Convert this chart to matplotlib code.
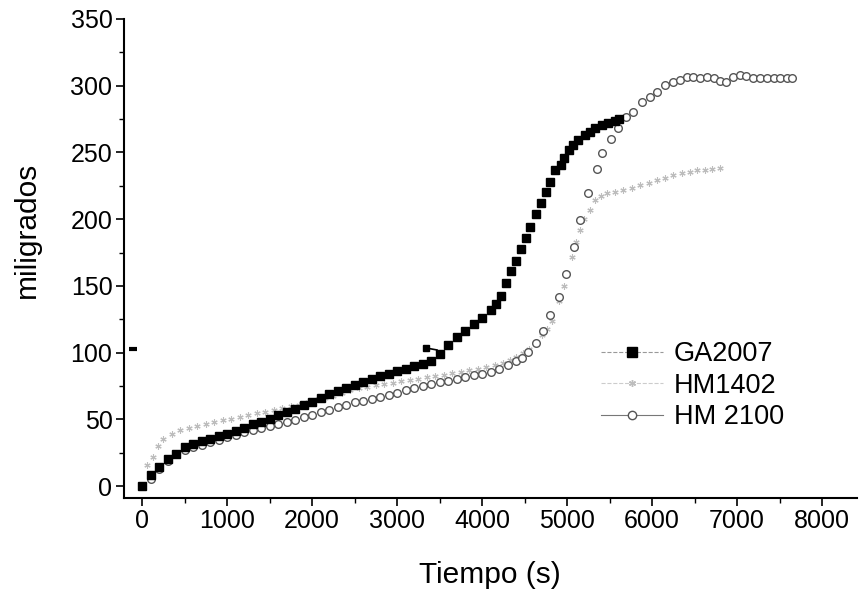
import numpy as np
import matplotlib
matplotlib.use("Agg")
import matplotlib.pyplot as plt
from matplotlib.lines import Line2D

plt.rcParams['font.family'] = ['Liberation Sans', 'DejaVu Sans']

# GA2007 (black squares) -- time [s], mass [mg]
ga_t = [0, 100, 200, 300, 400, 500, 600, 700, 800, 900, 1000, 1100, 1200, 1300,
        1400, 1500, 1600, 1700, 1800, 1900, 2000, 2100, 2200, 2300, 2400, 2500,
        2600, 2700, 2800, 2900, 3000, 3100, 3200, 3300, 3400, 3500, 3600, 3700,
        3800, 3900, 4000, 4100, 4160, 4220, 4282, 4338, 4400, 4459, 4518, 4568,
        4635, 4691, 4749, 4800, 4859, 4926, 4965, 5027, 5074, 5133, 5212, 5271,
        5329, 5408, 5486, 5565, 5615]
ga_m = [0, 8, 14.5, 20, 24, 29, 31.5, 33.5, 35.5, 37.3, 39.2, 41.3, 43.8, 46.3,
        48.2, 50, 53, 55.5, 58, 60.5, 63, 66, 69, 71.5, 73.5, 75.7,
        78.3, 80.5, 82.3, 84.2, 86.2, 88, 90, 91.7, 93.8, 99, 105.5, 111.7,
        116.5, 121.3, 126, 132, 136.3, 142.3, 151.8, 161.3, 168.5, 177.3, 185.5, 193.8,
        203.7, 212.2, 220.4, 228, 236.7, 240.4, 245.5, 251.7, 255.4, 259.2, 262.9, 265.4,
        267.9, 270.4, 272.1, 273.6, 274.7]

# HM1402 (light grey stars)
hm14_t = [0, 55, 130, 190, 250, 350, 450, 550, 650, 750, 850, 950, 1050, 1150,
          1250, 1350, 1450, 1550, 1650, 1750, 1850, 1950, 2050, 2150, 2250, 2350,
          2450, 2550, 2650, 2750, 2850, 2950, 3050, 3150, 3250, 3350, 3450, 3550,
          3650, 3750, 3850, 3950, 4050, 4150, 4250, 4330, 4400, 4480, 4550, 4630,
          4700, 4760, 4820, 4900, 4960, 5000, 5060, 5100, 5150, 5200, 5270, 5330,
          5400, 5467, 5560, 5663, 5760, 5859, 5960, 6055, 6150, 6251, 6350, 6447,
          6526, 6620, 6700, 6800]
hm14_m = [0, 16, 22, 30, 35, 39, 42, 43.5, 45, 46.5, 48, 49.3, 50.5, 52,
          53.5, 54.7, 55.8, 57.2, 58.5, 59.8, 61, 62.7, 64.5, 66, 67.5, 69.8,
          72, 73.3, 74.5, 75.5, 76.5, 77.5, 78.5, 79.5, 80.5, 81.5, 82.5, 83.5,
          84.5, 85.7, 87, 88, 89, 90.5, 92, 94.5, 97, 100, 103, 107.5,
          113, 118, 124, 139, 150, 160, 172, 183, 192, 200, 207, 214,
          217, 219.3, 220.5, 221.7, 223.5, 225.5, 227.3, 229.2, 231, 233, 234.3, 235.5,
          236.7, 237, 237.5, 238]

# HM 2100 (open circles)
hm21_t = [0, 100, 200, 300, 400, 500, 600, 700, 800, 900, 1000, 1100, 1200, 1300,
          1400, 1500, 1600, 1700, 1800, 1900, 2000, 2100, 2200, 2300, 2400, 2500,
          2600, 2700, 2800, 2900, 3000, 3100, 3200, 3300, 3400, 3500, 3600, 3700,
          3800, 3900, 4000, 4100, 4200, 4300, 4400, 4470, 4545, 4635, 4717, 4804,
          4900, 4984, 5078, 5157, 5251, 5349, 5408, 5518, 5604, 5694, 5780, 5878,
          5976, 6055, 6153, 6251, 6329, 6408, 6486, 6570, 6650, 6730, 6800, 6870,
          6950, 7035, 7110, 7190, 7270, 7350, 7430, 7510, 7590, 7650]
hm21_m = [0, 5, 12.5, 19, 24, 27, 29, 31, 33, 34.8, 36.7, 38.5, 40.5, 42.3,
          43.6, 44.8, 46.2, 47.7, 49.5, 51.5, 53.5, 55.3, 57.2, 59, 61, 62.7,
          63.9, 65.1, 66.4, 68, 70, 71.8, 73.7, 75.3, 76.6, 77.9, 79.1, 80.3,
          81.6, 82.9, 84.2, 85.8, 88, 90.5, 94, 96, 100.6, 107.5, 116, 128,
          141.8, 159, 179.5, 199.3, 219.3, 237.2, 249.7, 259.7, 268, 276.2, 280.4, 287.9,
          291.6, 295.4, 300.4, 302.8, 304.1, 306.1, 306.6, 306, 306.5, 305.5, 303.5, 303,
          306.5, 308, 307.5, 306, 305.5, 305.5, 305.5, 305.5, 305.5, 305.5]

# stray marks left in the original figure
stray1_t = [-150, -60]
stray1_m = [103, 103]
stray2_t = [3340, 3470]
stray2_m = [103.5, 102]

labels = ["GA2007", "HM1402", "HM 2100"]

fig = plt.figure(figsize=(8.59, 6.09), dpi=100)
ax = fig.add_axes([0.1438, 0.182, 0.8539, 0.787])

ax.plot(hm14_t, hm14_m, linestyle='none', marker=(6, 2, 0), markersize=4.5,
        color='#bdbdbd', markeredgewidth=0.8, zorder=2)
ax.plot(hm21_t, hm21_m, linestyle='none', marker='o', markersize=5.5,
        markerfacecolor='white', markeredgecolor='#555555', markeredgewidth=1.0, zorder=3)
ax.plot(ga_t, ga_m, linestyle='none', marker='s', markersize=6.3,
        color='black', zorder=4)
ax.plot(stray1_t, stray1_m, color='black', lw=3, solid_capstyle='butt')
ax.plot(stray2_t[:1], stray2_m[:1], marker='s', markersize=4, color='black', linestyle='none')
ax.plot(stray2_t, stray2_m, color='black', lw=1.2)

ax.set_xlim(-218, 8412)
ax.set_ylim(-9, 350)
ax.set_xticks(np.arange(0, 8001, 1000))
ax.set_xticks(np.arange(0, 8401, 500), minor=True)
ax.set_yticks(np.arange(0, 351, 50))
ax.set_yticks(np.arange(0, 351, 25), minor=True)

ax.spines['top'].set_visible(False)
ax.spines['right'].set_visible(False)
ax.spines['left'].set_linewidth(1.5)
ax.spines['bottom'].set_linewidth(1.5)
ax.tick_params(which='major', length=6, width=1.2, labelsize=18, pad=2)
ax.tick_params(which='minor', length=3.5, width=1.0)

ax.set_xlabel("Tiempo (s)", fontsize=21.5, labelpad=20)
ax.set_ylabel("miligrados", fontsize=21.5)
ax.yaxis.set_label_coords(-0.113, 0.56)

handles = [
    Line2D([], [], color='#999999', lw=0.8, ls='--', marker='s', markersize=6.5,
           markerfacecolor='black', markeredgecolor='black'),
    Line2D([], [], color='#cccccc', lw=0.8, ls='--', marker=(6, 2, 0), markersize=5,
           markeredgecolor='#bdbdbd'),
    Line2D([], [], color='#777777', lw=0.8, ls='-', marker='o', markersize=6,
           markerfacecolor='white', markeredgecolor='#555555'),
]
ax.legend(handles, labels, loc='upper left', bbox_to_anchor=(0.636, 0.35),
          frameon=False, fontsize=19.5, handlelength=2.3, handletextpad=0.4,
          labelspacing=0.2, borderaxespad=0)

fig.savefig("out.png", dpi=100)
